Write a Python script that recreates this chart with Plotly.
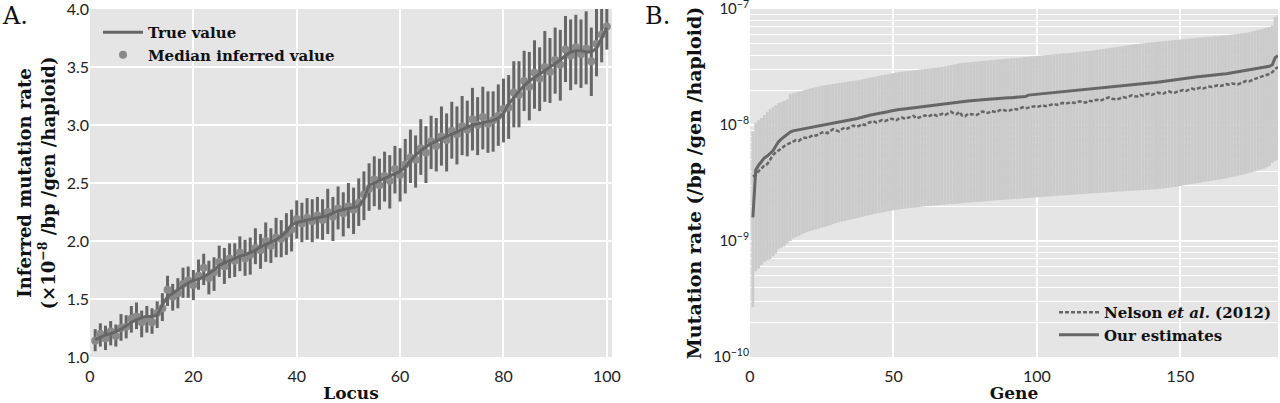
import plotly.graph_objects as go

# ---------------- Panel A data ----------------
locus = list(range(1, 101))
true_value = [
    1.15, 1.17, 1.19, 1.20, 1.22, 1.24, 1.27, 1.30, 1.32, 1.34,
    1.35, 1.35, 1.36, 1.45, 1.52, 1.55, 1.58, 1.61, 1.64, 1.66,
    1.67, 1.69, 1.72, 1.75, 1.79, 1.81, 1.83, 1.85, 1.87, 1.88,
    1.90, 1.92, 1.95, 1.97, 1.99, 2.01, 2.04, 2.08, 2.14, 2.16,
    2.17, 2.18, 2.19, 2.20, 2.21, 2.22, 2.24, 2.26, 2.27, 2.28,
    2.29, 2.30, 2.36, 2.48, 2.50, 2.52, 2.54, 2.56, 2.58, 2.60,
    2.64, 2.69, 2.74, 2.78, 2.81, 2.84, 2.86, 2.88, 2.90, 2.92,
    2.94, 2.96, 2.98, 3.00, 3.01, 3.02, 3.03, 3.04, 3.06, 3.10,
    3.18, 3.24, 3.29, 3.34, 3.38, 3.41, 3.44, 3.47, 3.50, 3.53,
    3.56, 3.60, 3.63, 3.64, 3.64, 3.63, 3.63, 3.66, 3.75, 3.84,
]
median_inferred = [
    1.14, 1.20, 1.16, 1.22, 1.18, 1.25, 1.26, 1.33, 1.35, 1.30,
    1.33, 1.30, 1.38, 1.42, 1.58, 1.52, 1.55, 1.63, 1.66, 1.62,
    1.70, 1.77, 1.68, 1.73, 1.82, 1.78, 1.85, 1.83, 1.90, 1.85,
    1.88, 1.94, 1.92, 2.00, 1.96, 2.03, 2.02, 2.06, 2.10, 2.19,
    2.15, 2.20, 2.17, 2.22, 2.18, 2.25, 2.21, 2.28, 2.24, 2.30,
    2.27, 2.33, 2.40, 2.45, 2.53, 2.48, 2.56, 2.52, 2.62, 2.57,
    2.66, 2.72, 2.70, 2.80, 2.76, 2.86, 2.82, 2.90, 2.87, 2.95,
    2.92, 2.99, 2.96, 3.05, 3.00, 3.07, 3.01, 3.04, 3.08, 3.14,
    3.15, 3.28, 3.26, 3.38, 3.33, 3.45, 3.40, 3.50, 3.46, 3.56,
    3.52, 3.65, 3.60, 3.67, 3.61, 3.66, 3.55, 3.70, 3.78, 3.85,
]
err_upper = [
    0.10, 0.09, 0.11, 0.09, 0.10, 0.12, 0.10, 0.11, 0.12, 0.10,
    0.11, 0.12, 0.10, 0.13, 0.12, 0.11, 0.13, 0.14, 0.12, 0.13,
    0.14, 0.12, 0.15, 0.13, 0.14, 0.16, 0.13, 0.15, 0.14, 0.16,
    0.15, 0.17, 0.14, 0.16, 0.15, 0.17, 0.16, 0.18, 0.17, 0.16,
    0.18, 0.17, 0.19, 0.16, 0.18, 0.20, 0.17, 0.19, 0.18, 0.20,
    0.19, 0.21, 0.20, 0.22, 0.20, 0.23, 0.21, 0.22, 0.20, 0.23,
    0.22, 0.24, 0.21, 0.25, 0.23, 0.22, 0.24, 0.26, 0.23, 0.25,
    0.24, 0.26, 0.25, 0.27, 0.24, 0.26, 0.28, 0.25, 0.27, 0.26,
    0.28, 0.27, 0.29, 0.26, 0.30, 0.28, 0.27, 0.31, 0.29, 0.28,
    0.30, 0.29, 0.31, 0.28, 0.30, 0.32, 0.29, 0.31, 0.22, 0.18,
]
err_lower = [
    0.09, 0.11, 0.10, 0.12, 0.09, 0.11, 0.10, 0.12, 0.11, 0.13,
    0.12, 0.10, 0.13, 0.11, 0.14, 0.12, 0.13, 0.12, 0.15, 0.13,
    0.12, 0.15, 0.14, 0.16, 0.13, 0.15, 0.17, 0.14, 0.16, 0.15,
    0.17, 0.14, 0.16, 0.18, 0.15, 0.17, 0.16, 0.18, 0.19, 0.17,
    0.16, 0.19, 0.18, 0.20, 0.17, 0.19, 0.21, 0.18, 0.20, 0.19,
    0.21, 0.20, 0.22, 0.19, 0.23, 0.21, 0.22, 0.24, 0.21, 0.23,
    0.25, 0.22, 0.24, 0.23, 0.26, 0.24, 0.22, 0.25, 0.27, 0.24,
    0.26, 0.25, 0.23, 0.27, 0.26, 0.28, 0.25, 0.27, 0.26, 0.29,
    0.27, 0.30, 0.28, 0.26, 0.29, 0.31, 0.28, 0.30, 0.27, 0.29,
    0.31, 0.28, 0.30, 0.32, 0.29, 0.31, 0.30, 0.28, 0.24, 0.20,
]

# ---------------- Panel B data (units of 1e-8) ----------------
gene = list(range(1, 185))
our_estimates = [
    0.16, 0.41, 0.45, 0.49, 0.52, 0.54, 0.57, 0.60, 0.66, 0.72,
    0.76, 0.80, 0.84, 0.87, 0.89, 0.90, 0.91, 0.93, 0.94, 0.95,
    0.96, 0.97, 0.98, 0.99, 1.00, 1.01, 1.02, 1.03, 1.04, 1.05,
    1.06, 1.07, 1.08, 1.09, 1.10, 1.11, 1.13, 1.15, 1.17, 1.19,
    1.20, 1.22, 1.23, 1.24, 1.26, 1.27, 1.28, 1.30, 1.32, 1.34,
    1.35, 1.36, 1.37, 1.38, 1.39, 1.40, 1.42, 1.43, 1.44, 1.45,
    1.46, 1.47, 1.48, 1.49, 1.50, 1.51, 1.52, 1.53, 1.54, 1.55,
    1.56, 1.57, 1.58, 1.59, 1.60, 1.61, 1.62, 1.62, 1.63, 1.64,
    1.65, 1.66, 1.66, 1.67, 1.68, 1.69, 1.69, 1.70, 1.71, 1.72,
    1.72, 1.73, 1.74, 1.75, 1.75, 1.76, 1.81, 1.82, 1.83, 1.84,
    1.85, 1.86, 1.87, 1.88, 1.89, 1.90, 1.91, 1.92, 1.93, 1.94,
    1.95, 1.96, 1.97, 1.98, 1.99, 2.00, 2.01, 2.02, 2.03, 2.04,
    2.05, 2.06, 2.08, 2.09, 2.10, 2.12, 2.13, 2.14, 2.16, 2.17,
    2.18, 2.20, 2.21, 2.22, 2.24, 2.25, 2.26, 2.28, 2.29, 2.31,
    2.32, 2.34, 2.36, 2.37, 2.39, 2.41, 2.43, 2.45, 2.47, 2.49,
    2.51, 2.52, 2.54, 2.56, 2.58, 2.60, 2.62, 2.64, 2.66, 2.68,
    2.70, 2.71, 2.72, 2.74, 2.75, 2.76, 2.79, 2.82, 2.85, 2.88,
    2.91, 2.94, 2.97, 3.00, 3.03, 3.06, 3.09, 3.12, 3.15, 3.18,
    3.21, 3.30, 3.80, 3.95,
]
nelson_2012 = [
    0.36, 0.37, 0.40, 0.42, 0.45, 0.46, 0.50, 0.55, 0.58, 0.60,
    0.63, 0.66, 0.68, 0.71, 0.72, 0.74, 0.73, 0.76, 0.78, 0.77,
    0.80, 0.82, 0.81, 0.84, 0.86, 0.87, 0.85, 0.89, 0.92, 0.90,
    0.88, 0.92, 0.95, 0.93, 0.96, 0.99, 0.97, 0.98, 1.02, 1.00,
    1.04, 1.06, 1.08, 1.05, 1.07, 1.10, 1.08, 1.11, 1.13, 1.12,
    1.10, 1.14, 1.16, 1.13, 1.15, 1.17, 1.20, 1.14, 1.16, 1.19,
    1.21, 1.18, 1.22, 1.24, 1.20, 1.23, 1.25, 1.22, 1.27, 1.30,
    1.26, 1.24, 1.30, 1.20, 1.19, 1.25, 1.24, 1.23, 1.22, 1.26,
    1.31, 1.28, 1.27, 1.32, 1.30, 1.29, 1.34, 1.36, 1.33, 1.32,
    1.35, 1.38, 1.36, 1.40, 1.42, 1.39, 1.41, 1.44, 1.45, 1.43,
    1.46, 1.48, 1.45, 1.47, 1.50, 1.52, 1.49, 1.51, 1.55, 1.53,
    1.54, 1.57, 1.55, 1.58, 1.60, 1.57, 1.56, 1.62, 1.60, 1.63,
    1.65, 1.62, 1.66, 1.70, 1.73, 1.68, 1.67, 1.66, 1.70, 1.74,
    1.72, 1.75, 1.80, 1.77, 1.76, 1.82, 1.79, 1.84, 1.86, 1.82,
    1.85, 1.90, 1.88, 1.86, 1.92, 1.95, 1.91, 1.90, 1.94, 1.98,
    2.00, 1.97, 2.02, 2.06, 2.03, 2.08, 2.10, 2.07, 2.12, 2.15,
    2.13, 2.18, 2.20, 2.17, 2.22, 2.25, 2.23, 2.28, 2.26, 2.24,
    2.30, 2.35, 2.40, 2.38, 2.45, 2.50, 2.55, 2.60, 2.65, 2.70,
    2.75, 2.85, 3.05, 3.15,
]
ci_upper = [
    0.88, 1.05, 1.10, 1.15, 1.22, 1.30, 1.37, 1.42, 1.48, 1.55,
    1.58, 1.62, 1.66, 1.85, 1.88, 1.91, 1.94, 1.97, 2.00, 2.03,
    2.06, 2.09, 2.12, 2.15, 2.18, 2.20, 2.22, 2.24, 2.26, 2.28,
    2.30, 2.32, 2.34, 2.36, 2.38, 2.40, 2.42, 2.44, 2.47, 2.50,
    2.53, 2.56, 2.59, 2.62, 2.65, 2.68, 2.71, 2.74, 2.77, 2.80,
    2.83, 2.86, 2.88, 2.90, 2.92, 2.94, 2.96, 2.98, 3.00, 3.02,
    3.04, 3.06, 3.08, 3.10, 3.12, 3.14, 3.16, 3.20, 3.24, 3.28,
    3.32, 3.36, 3.40, 3.42, 3.44, 3.46, 3.48, 3.50, 3.52, 3.54,
    3.56, 3.58, 3.60, 3.62, 3.64, 3.66, 3.68, 3.70, 3.72, 3.74,
    3.75, 3.76, 3.78, 3.80, 3.82, 3.85, 3.88, 3.90, 3.92, 3.94,
    3.96, 3.98, 4.00, 4.02, 4.05, 4.08, 4.10, 4.12, 4.14, 4.16,
    4.18, 4.20, 4.22, 4.25, 4.28, 4.30, 4.32, 4.34, 4.36, 4.40,
    4.44, 4.48, 4.52, 4.56, 4.60, 4.64, 4.68, 4.72, 4.76, 4.80,
    4.84, 4.88, 4.92, 4.96, 5.00, 5.03, 5.06, 5.10, 5.13, 5.16,
    5.19, 5.22, 5.25, 5.28, 5.31, 5.34, 5.37, 5.40, 5.43, 5.46,
    5.49, 5.52, 5.55, 5.58, 5.61, 5.64, 5.67, 5.70, 5.73, 5.76,
    5.79, 5.82, 5.85, 5.88, 5.91, 5.94, 5.98, 6.02, 6.06, 6.10,
    6.15, 6.20, 6.25, 6.30, 6.40, 6.50, 6.60, 6.70, 6.80, 6.90,
    7.00, 7.20, 8.50, 8.80,
]
ci_lower = [
    0.027, 0.055, 0.058, 0.062, 0.066, 0.068, 0.070, 0.074, 0.078, 0.085,
    0.088, 0.090, 0.095, 0.100, 0.105, 0.108, 0.111, 0.114, 0.117, 0.120,
    0.122, 0.124, 0.126, 0.128, 0.130, 0.132, 0.134, 0.137, 0.140, 0.143,
    0.145, 0.147, 0.149, 0.151, 0.153, 0.155, 0.157, 0.159, 0.161, 0.164,
    0.166, 0.168, 0.170, 0.172, 0.174, 0.176, 0.178, 0.180, 0.182, 0.184,
    0.186, 0.188, 0.189, 0.190, 0.192, 0.193, 0.194, 0.195, 0.196, 0.198,
    0.199, 0.200, 0.201, 0.202, 0.203, 0.204, 0.205, 0.206, 0.207, 0.208,
    0.209, 0.210, 0.211, 0.212, 0.213, 0.214, 0.215, 0.216, 0.217, 0.218,
    0.219, 0.220, 0.221, 0.222, 0.223, 0.224, 0.225, 0.226, 0.227, 0.228,
    0.229, 0.230, 0.231, 0.232, 0.233, 0.234, 0.235, 0.236, 0.237, 0.238,
    0.239, 0.240, 0.241, 0.242, 0.243, 0.244, 0.245, 0.246, 0.247, 0.248,
    0.249, 0.250, 0.251, 0.252, 0.253, 0.254, 0.255, 0.256, 0.257, 0.258,
    0.259, 0.260, 0.261, 0.262, 0.263, 0.264, 0.265, 0.266, 0.267, 0.268,
    0.269, 0.270, 0.271, 0.272, 0.273, 0.274, 0.275, 0.276, 0.277, 0.278,
    0.279, 0.280, 0.282, 0.284, 0.286, 0.288, 0.290, 0.292, 0.295, 0.298,
    0.301, 0.304, 0.307, 0.310, 0.313, 0.316, 0.319, 0.322, 0.325, 0.328,
    0.331, 0.334, 0.337, 0.340, 0.344, 0.348, 0.352, 0.356, 0.360, 0.365,
    0.370, 0.375, 0.380, 0.386, 0.392, 0.398, 0.405, 0.412, 0.420, 0.430,
    0.445, 0.470, 0.490, 0.500,
]
SCALE = 1e-8

# ---------------- styling ----------------
BG = "#e5e5e5"
DARK = "#666666"
SERIF = "DejaVu Serif"
TICKFONT = dict(family="Lato", size=16, color="#222222")

our_vals = [v * SCALE for v in our_estimates]
nel_vals = [v * SCALE for v in nelson_2012]
up_err = [(u - o) * SCALE for u, o in zip(ci_upper, our_estimates)]
lo_err = [(o - l) * SCALE for o, l in zip(our_estimates, ci_lower)]

fig = go.Figure()

# Panel A
fig.add_trace(go.Scatter(
    x=locus, y=median_inferred, mode="markers", name="<b>Median inferred value</b>",
    marker=dict(color="#8a8a8a", size=8),
    error_y=dict(type="data", symmetric=False, array=err_upper, arrayminus=err_lower,
                 color=DARK, thickness=3, width=0),
    xaxis="x", yaxis="y", legend="legend", legendrank=2,
))
fig.add_trace(go.Scatter(
    x=locus, y=true_value, mode="lines", name="<b>True value</b>",
    line=dict(color=DARK, width=3), xaxis="x", yaxis="y",
    legend="legend", legendrank=1,
))

# Panel B: CI bars
fig.add_trace(go.Scatter(
    x=gene, y=our_vals, mode="markers", marker=dict(size=0, opacity=0),
    error_y=dict(type="data", symmetric=False, array=up_err, arrayminus=lo_err,
                 color="#cbcbcb", thickness=2.9, width=0),
    showlegend=False, hoverinfo="skip", xaxis="x2", yaxis="y2",
))
fig.add_trace(go.Scatter(
    x=gene, y=nel_vals, mode="lines", name="<b>Nelson <i>et al.</i> (2012)</b>",
    line=dict(color=DARK, width=2.5, dash="4px,2px"), xaxis="x2", yaxis="y2",
    legend="legend2", legendrank=1,
))
fig.add_trace(go.Scatter(
    x=gene, y=our_vals, mode="lines", name="<b>Our estimates</b>",
    line=dict(color=DARK, width=3), xaxis="x2", yaxis="y2",
    legend="legend2", legendrank=2,
))

ydom = [1 - 357 / 403, 1 - 9 / 403]

minor_vals = [m * 10.0 ** e for e in (-10, -9, -8) for m in range(2, 10)]

fig.update_layout(
    width=1280, height=403,
    margin=dict(l=0, r=0, t=0, b=0, autoexpand=False),
    paper_bgcolor="white", plot_bgcolor=BG,
    xaxis=dict(domain=[90 / 1280, 612 / 1280], range=[0, 101], automargin=False,
               tickvals=[0, 20, 40, 60, 80, 100], showgrid=True, gridcolor="white",
               gridwidth=1.5, zeroline=False, ticks="", tickfont=TICKFONT,
               ticklabelstandoff=8, ticklabeloverflow="allow",
               title=dict(text="<b>Locus</b>", font=dict(family=SERIF, size=17, color="#111"), standoff=3)),
    yaxis=dict(domain=ydom, range=[1.0, 4.0], automargin=False,
               tickvals=[1.0, 1.5, 2.0, 2.5, 3.0, 3.5, 4.0],
               ticktext=["1.0", "1.5", "2.0", "2.5", "3.0", "3.5", "4.0"],
               showgrid=True, gridcolor="white", gridwidth=1.5,
               zeroline=False, ticks="", tickfont=TICKFONT, ticklabeloverflow="allow",
               title=dict(text="<b>Inferred mutation rate</b><br><b>(×10<sup>−8</sup> /bp /gen /haploid)</b>",
                          font=dict(family=SERIF, size=18, color="#111"), standoff=6)),
    xaxis2=dict(domain=[750 / 1280, 1278 / 1280], range=[0, 184], automargin=False,
                tickvals=[0, 50, 100, 150], showgrid=True, gridcolor="white",
                gridwidth=1.5, zeroline=False, ticks="", tickfont=TICKFONT, anchor="y2",
                ticklabelstandoff=8, ticklabeloverflow="allow",
                title=dict(text="<b>Gene</b>", font=dict(family=SERIF, size=17, color="#111"), standoff=3)),
    yaxis2=dict(domain=ydom, type="log", range=[-10, -7], anchor="x2", automargin=False,
                tickvals=[1e-10, 1e-9, 1e-8, 1e-7],
                ticktext=["10<sup>−10</sup>", "10<sup>−9</sup>", "10<sup>−8</sup>", "10<sup>−7</sup>"],
                showgrid=True, gridcolor="white", gridwidth=1.5, zeroline=False, ticks="",
                tickfont=dict(family="Lato", size=15, color="#222222"), ticklabeloverflow="allow",
                minor=dict(tickvals=minor_vals, showgrid=True, gridcolor="white", gridwidth=1, ticks=""),
                title=dict(text="<b>Mutation rate (/bp /gen /haploid)</b>",
                           font=dict(family=SERIF, size=19, color="#111"), standoff=6)),
    legend=dict(x=98 / 1280, y=1 - 16 / 403, xanchor="left", yanchor="top",
                bgcolor="rgba(0,0,0,0)", font=dict(family=SERIF, size=15, color="#111"),
                tracegroupgap=2, itemwidth=40),
    legend2=dict(x=1054 / 1280, y=1 - 296 / 403, xanchor="left", yanchor="top",
                 bgcolor="rgba(0,0,0,0)", font=dict(family=SERIF, size=15, color="#111"),
                 itemwidth=40),
    showlegend=True,
    annotations=[
        dict(text="A.", x=0, y=1 - 16 / 403, xref="paper", yref="paper", xanchor="left",
             yanchor="middle", showarrow=False, font=dict(family=SERIF, size=24, color="#111")),
        dict(text="B.", x=643 / 1280, y=1 - 16 / 403, xref="paper", yref="paper", xanchor="left",
             yanchor="middle", showarrow=False, font=dict(family=SERIF, size=24, color="#111")),
    ],
)

fig.write_html("out.html")
